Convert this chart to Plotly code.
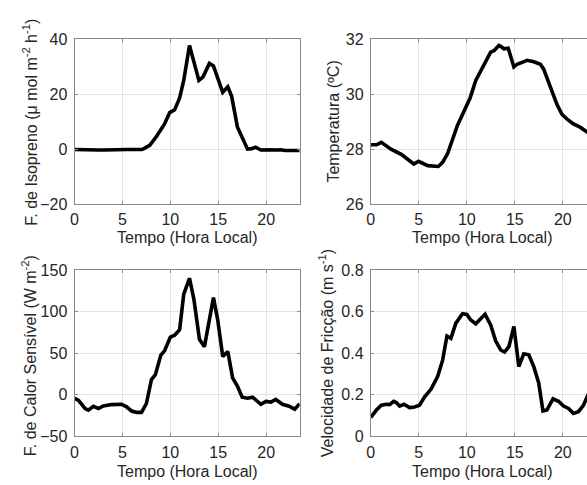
import plotly.graph_objects as go

# ---------------- data ----------------
iso_t = [0, 0.5, 1, 1.5, 2, 2.5, 3, 3.5, 4, 4.5, 5, 5.5, 6, 6.5, 7, 7.2, 7.85, 8.55, 9.0, 9.4, 9.93, 10.45, 10.97,
         11.4, 12.0, 12.46, 12.98, 13.4, 14.08, 14.5, 14.95, 15.47, 16.0, 16.4, 17.0, 17.5, 18.06, 18.5,
         18.9, 19.45, 20, 20.5, 21, 21.5, 22, 22.5, 23, 23.5]
iso_v = [-0.1, -0.2, -0.1, -0.3, -0.2, -0.3, -0.3, -0.2, -0.2, -0.1, -0.1, -0.1, -0.1, -0.2, -0.1, 0.1, 1.4, 4.6, 7.0,
         9.2, 13.3, 14.3, 18.6, 25.0, 37.7, 32.0, 25.0, 26.2, 31.2, 30.3, 25.6, 20.7, 22.7, 19.2, 8.1, 4.0,
         0.0, 0.2, 0.7, -0.3, -0.1, -0.2, -0.3, -0.2, -0.5, -0.4, -0.6, -0.5]

tmp_t = [0, 0.59, 1.1, 2.1, 3.17, 3.86, 4.48, 4.97, 5.93, 7.03, 7.48, 8.0, 9.03, 9.72, 10.34, 10.93, 11.79,
         12.48, 12.83, 13.34, 13.52, 13.86, 14.31, 14.9, 15.24, 16.28, 16.97, 17.66, 18.0, 18.69, 19.38,
         19.9, 20.41, 21.1, 21.79, 22.48, 23.0, 23.5]
tmp_v = [28.16, 28.16, 28.25, 28.0, 27.81, 27.64, 27.46, 27.56, 27.4, 27.37, 27.52, 27.84, 28.87, 29.39, 29.86,
         30.5, 31.09, 31.53, 31.58, 31.77, 31.74, 31.65, 31.67, 30.99, 31.09, 31.23, 31.18, 31.09, 30.91, 30.27,
         29.63, 29.27, 29.1, 28.92, 28.8, 28.63, 28.5, 28.4]

sen_t = [0, 0.42, 1.1, 1.45, 1.97, 2.5, 3.0, 3.88, 4.91, 5.43, 5.95, 6.47, 6.99, 7.5, 8.03, 8.44, 9.0, 9.41,
         10.0, 10.45, 10.97, 11.4, 12.0, 12.46, 13.04, 13.56, 14.5, 14.95, 15.47, 16.0, 16.5, 17.0, 17.5,
         18.06, 18.58, 19.45, 19.97, 20.5, 21.0, 21.7, 22.4, 22.98, 23.5]
sen_v = [-4, -6.7, -16.4, -18.4, -13.7, -16.4, -13.3, -11.7, -11.3, -14.4, -19.4, -21, -21, -10.5, 18.5, 24.3,
         47.5, 53.3, 69.5, 71.8, 78.4, 121, 140.3, 115, 66.8, 58, 117, 90, 46.3, 52, 20.4, 10.7, -2.8, -4, -2.8,
         -11.3, -7.8, -8.6, -5.5, -11.3, -13.7, -17.2, -10.5]

ust_t = [0, 0.59, 1.1, 1.62, 1.97, 2.38, 2.66, 3.0, 3.45, 4.03, 4.55, 5.07, 5.59, 6.28, 6.97, 7.48, 7.93, 8.34,
         8.86, 9.55, 10.0, 10.41, 10.93, 11.52, 11.9, 12.48, 13.0, 13.52, 13.93, 14.38, 14.9, 15.17, 15.41,
         15.93, 16.45, 16.97, 17.48, 17.93, 18.34, 18.97, 19.55, 20.07, 20.59, 21.1, 21.62, 22.14, 22.55, 23.0, 23.5]
ust_v = [0.091, 0.127, 0.15, 0.155, 0.153, 0.169, 0.163, 0.146, 0.155, 0.139, 0.142, 0.15, 0.189, 0.228, 0.289,
         0.367, 0.483, 0.472, 0.545, 0.591, 0.587, 0.56, 0.542, 0.568, 0.588, 0.537, 0.46, 0.416, 0.406, 0.432,
         0.529, 0.429, 0.336, 0.398, 0.393, 0.336, 0.259, 0.122, 0.127, 0.181, 0.169, 0.146, 0.135, 0.111, 0.119,
         0.15, 0.2, 0.24, 0.27]

x_title = "Tempo (Hora Local)"
y_titles = ["F. de Isopreno (μ mol m<sup>-2</sup> h<sup>-1</sup>)",
            "Temperatura (ºC)",
            "F. de Calor Sensível (W m<sup>-2</sup>)",
            "Velocidade de Fricção (m s<sup>-1</sup>)"]
x_ticks = [0, 5, 10, 15, 20]

# ---------------- layout ----------------
W, H = 587, 485
FONT = "Liberation Sans, Arial, sans-serif"
FS = 16
AXC = "#8a8a8a"
GRIDC = "#e3e3e3"
TXTC = "#262626"

def px(x):
    return x / W

def py(y):
    return 1 - y / H

left_dom = [px(71), px(297.7)]
right_dom = [px(369.3), 1.0]
top_dom = [py(203.3), py(32.3)]
bot_dom = [py(444), py(271.7)]

fig = go.Figure()
series = [(iso_t, iso_v), (tmp_t, tmp_v), (sen_t, sen_v), (ust_t, ust_v)]
for i, (t, v) in enumerate(series):
    n = "" if i == 0 else str(i + 1)
    fig.add_trace(go.Scatter(x=t, y=v, mode="lines", xaxis="x" + n, yaxis="y" + n,
                             line=dict(color="black", width=3.6), showlegend=False, hoverinfo="skip"))

def xax(dom, anchor, rng):
    return dict(domain=dom, anchor=anchor, range=rng, tickvals=x_ticks, showgrid=True, gridcolor=GRIDC,
                zeroline=False, showline=True, linecolor=AXC, linewidth=1, mirror="ticks", ticks="inside",
                ticklen=3, tickcolor=AXC, ticklabelstandoff=1,
                tickfont=dict(family=FONT, size=FS, color=TXTC))

def yax(dom, anchor, rng, dtick, mirror):
    return dict(domain=dom, anchor=anchor, range=rng, dtick=dtick, tick0=0, showgrid=True, gridcolor=GRIDC,
                zeroline=False, showline=True, linecolor=AXC, linewidth=1, mirror=mirror, ticks="inside",
                ticklen=3, tickcolor=AXC, ticklabelstandoff=3,
                tickfont=dict(family=FONT, size=FS, color=TXTC))

xr_left = [0, 23.5]
xr_right = [0, (587 - 369.3) / ((562.7 - 369.3) / 20)]

fig.update_layout(
    width=W, height=H, margin=dict(l=0, r=0, t=0, b=0),
    paper_bgcolor="white", plot_bgcolor="white",
    xaxis=xax(left_dom, "y", xr_left),
    yaxis=yax(top_dom, "x", [-20, 40], 20, "ticks"),
    xaxis2=xax(right_dom, "y2", xr_right),
    yaxis2=yax(top_dom, "x2", [26, 32], 2, False),
    xaxis3=xax(left_dom, "y3", xr_left),
    yaxis3=yax(bot_dom, "x3", [-50, 150], 50, "ticks"),
    xaxis4=xax(right_dom, "y4", xr_right),
    yaxis4=yax(bot_dom, "x4", [0, 0.8], 0.2, False),
)

annots = []
# x titles
for cx, cy in [(184.3, 237.5), (482, 237.5), (184.3, 480), (482, 480)]:
    annots.append(dict(text=x_title, x=px(cx), y=py(cy), xref="paper", yref="paper", showarrow=False,
                       xanchor="center", yanchor="middle", font=dict(family=FONT, size=FS, color=TXTC)))
# y titles
for txt, cx, cy in zip(y_titles, [26, 332, 26, 325], [118, 118, 360, 358]):
    annots.append(dict(text=txt, x=px(cx), y=py(cy), xref="paper", yref="paper", showarrow=False,
                       textangle=-90, xanchor="center", yanchor="middle",
                       font=dict(family=FONT, size=FS, color=TXTC)))
fig.update_layout(annotations=annots)

fig.write_html("out.html", config={"displayModeBar": False},
               post_script="document.body.style.margin='0';document.body.style.overflow='hidden';")
